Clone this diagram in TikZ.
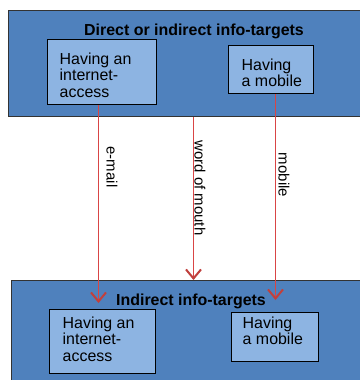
\documentclass[tikz,border=0pt]{standalone}
\usepackage{fontspec}
\setmainfont{Liberation Sans}
\usetikzlibrary{arrows.meta}
\definecolor{outerblue}{HTML}{4F81BD}
\definecolor{innerblue}{HTML}{8DB4E2}
\definecolor{linered}{HTML}{D94545}
\definecolor{tipred}{HTML}{C0403D}
\tikzset{
  outerbox/.style={draw=black!80, line width=1bp, fill=outerblue, rectangle, inner sep=0pt, anchor=north west},
  innerbox/.style={draw=black, line width=1bp, fill=innerblue, rectangle, inner sep=0pt, anchor=north west},
  boxtext/.style={anchor=north west, inner sep=0pt, align=left, font=\fontsize{16}{17}\selectfont},
  titletext/.style={anchor=base, inner sep=0pt, font=\fontsize{16}{18}\selectfont\bfseries},
  conn/.style={draw=linered, line width=1bp, -{Straight Barb[length=9bp,width=15bp,line width=2bp,color=tipred]}},
  chanlabel/.style={rotate=-90, inner sep=0pt, font=\fontsize{15}{17}\selectfont}
}
\begin{document}
\begin{tikzpicture}[x=1bp,y=-1bp]
\useasboundingbox (0,0) rectangle (360,380);
\fill[white] (0,0) rectangle (360,380);
% outer boxes
\node[outerbox, minimum width=354bp, minimum height=106bp] (top) at (8,10) {};
\node[outerbox, minimum width=354bp, minimum height=110bp] (bot) at (11,280) {};
% titles
\node[titletext] (toptitle) at (194,35) {Direct or indirect info-targets};
\node[titletext] (bottitle) at (191,305) {Indirect info-targets};
% inner boxes
\node[innerbox, minimum width=109bp, minimum height=65bp] (tl) at (47,39) {};
\node[innerbox, minimum width=85bp, minimum height=48bp] (tr) at (228,45) {};
\node[innerbox, minimum width=106bp, minimum height=64bp] (bl) at (49,309) {};
\node[innerbox, minimum width=87bp, minimum height=49bp] (br) at (231,312) {};
% inner texts
\node[boxtext] (tltext) at (59.5,52.3) {Having an\\internet-\\access};
\node[boxtext] (trtext) at (241.5,58.3) {Having\\a mobile};
\node[boxtext] (bltext) at (62.5,316.3) {Having an\\internet-\\access};
\node[boxtext] (brtext) at (242.5,316.3) {Having\\a mobile};
% connector end points
\coordinate (ea) at (98.5,303);
\coordinate (wm) at (193.5,280);
\coordinate (mb) at (275.5,300);
% connectors
\draw[conn] (tl.south -| ea) -- (ea);
\draw[conn] (top.south -| wm) -- (wm);
\draw[conn] (tr.south -| mb) -- (mb);
% labels
\node[chanlabel] (lemail) at (112,167) {e-mail};
\node[chanlabel] (lwom) at (200,188) {word of mouth};
\node[chanlabel] (lmob) at (284,175) {mobile};
\end{tikzpicture}
\end{document}
